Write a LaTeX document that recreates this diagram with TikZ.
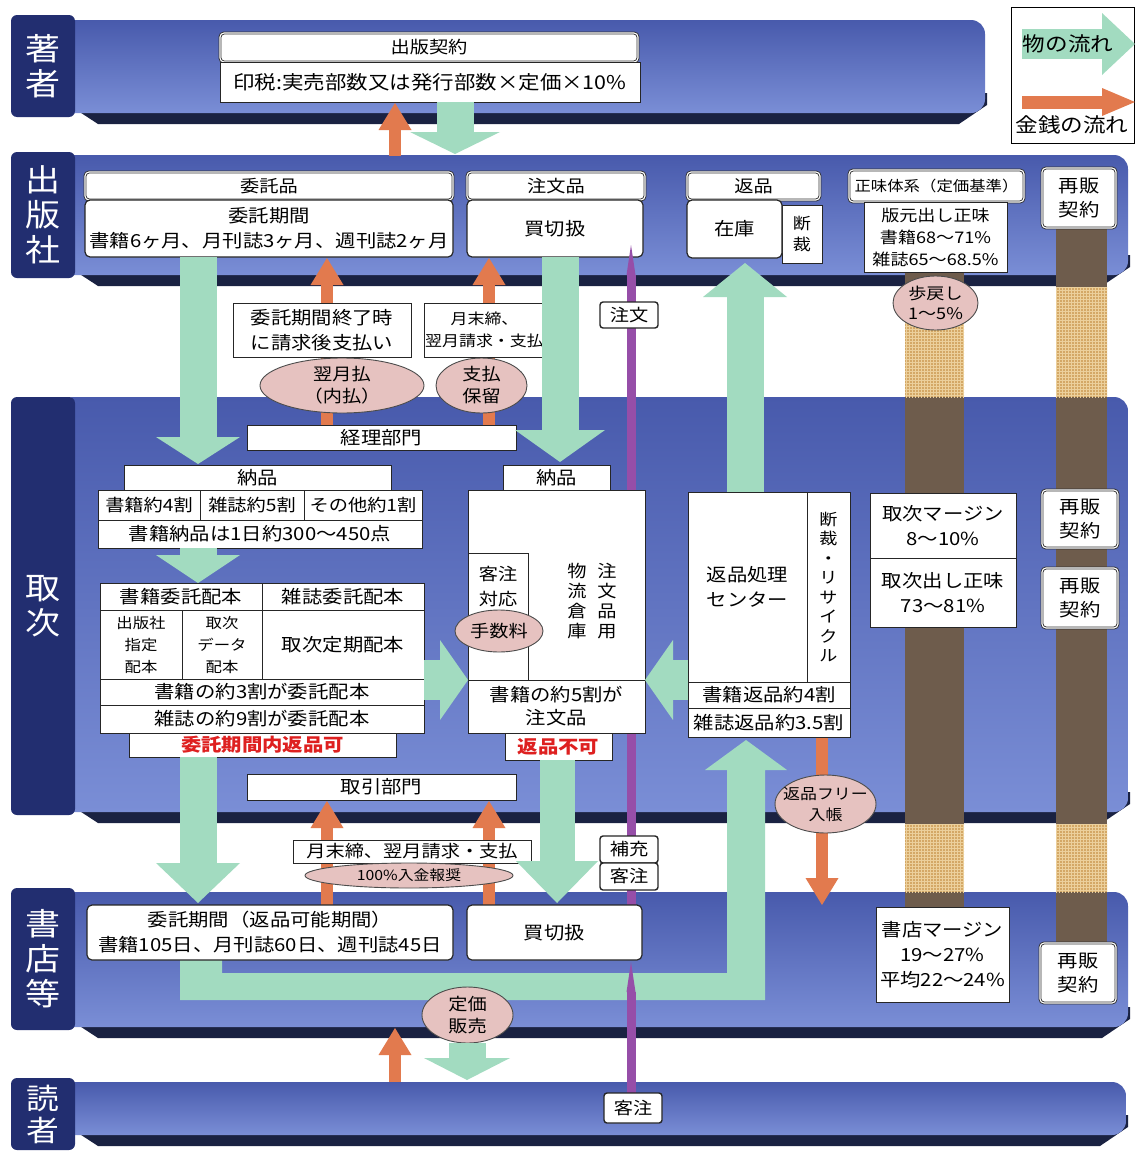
\documentclass[tikz,border=0pt]{standalone}
\usepackage{fontspec}
\setmainfont{Noto Sans CJK JP}[FakeStretch=1.13]
\usetikzlibrary{arrows.meta,patterns,shapes.geometric}
\definecolor{bandA}{RGB}{72,90,172}
\definecolor{bandB}{RGB}{122,142,214}
\definecolor{navy}{RGB}{34,46,112}
\definecolor{shad}{RGB}{26,34,66}
\definecolor{grn}{RGB}{162,219,192}
\definecolor{org}{RGB}{226,122,78}
\definecolor{pur}{RGB}{150,78,168}
\definecolor{pinkE}{RGB}{230,194,192}
\definecolor{tanC}{RGB}{212,168,102}
\definecolor{tanL}{RGB}{236,208,156}
\definecolor{brn}{RGB}{110,92,76}
\definecolor{redT}{RGB}{222,32,32}
\newcommand\fsz[2]{\fontsize{#1}{#2}\selectfont}
\newcommand\bx[7]{\node[#1,minimum width={(#5)-(#3)},minimum height={(#6)-(#4)}] (#2) at ({((#3)+(#5))/2},{((#4)+(#6))/2}) {#7};}
\newcommand\el[7]{\bx{ebox}{#1}{#2}{#3}{#4}{#5}{}\node[base,font=#6] at (#1) {#7};}
\newcommand\band[3]{%
 \fill[shad] (72,{#2-6}) -- (98,{#2+11}) -- ({#3-26},{#2+11}) -- ({#3+2},{#2-8}) -- ({#3+2},{#2-20}) -- (72,{#2-20}) -- cycle;
 \shade[top color=bandA,bottom color=bandB,rounded corners=14pt] (60,#1) rectangle (#3,#2);}
\begin{document}
\begin{tikzpicture}[x=1pt,y=-1pt,
 base/.style={inner sep=0pt,outer sep=0pt,align=center,text=black},
 wbox/.style={base,draw=black!85,fill=white,line width=0.8pt,font=\fsz{18}{25}},
 rbox/.style={wbox,rounded corners=5pt,line width=1.2pt},
 hbox/.style={base,draw=black!80,fill=white,double=white,double distance=1.1pt,line width=0.9pt,rounded corners=4pt,font=\fsz{17}{24}},
 ebox/.style={base,ellipse,draw=black!70,fill=pinkE,line width=0.9pt},
 lbl/.style={base,draw=black!85,fill=white,line width=1.4pt,rounded corners=3pt,font=\fsz{17}{22}},
 labbox/.style={base,fill=navy,rounded corners=6pt,text=white,font=\fsz{31}{35}},
 redt/.style={text=redT,font=\fsz{18}{24}\bfseries},
 garrow/.style={draw=grn,line width=#1},
 gtip/.style 2 args={-{Triangle[width=#1,length=#2,line width=0pt]}},
 oarrow/.style={draw=org,line width=12pt,-{Triangle[width=33pt,length=27pt,line width=0pt]}},
 parrow/.style={draw=pur,line width=9pt,-{Triangle[width=9pt,length=30pt,line width=0pt]}},
]
\useasboundingbox (0,0) rectangle (1135,1151);
\clip (0,0) rectangle (1135,1151);
\fill[white] (0,0) rectangle (1135,1151);

% bands
\band{20}{113}{985}
\band{155}{275}{1128}
\band{397}{812}{1128}
\band{892}{1027}{1128}
\band{1082}{1135}{1126}

% side labels
\bx{labbox}{lbA}{11}{15}{75}{117}{著\\者}
\bx{labbox}{lbB}{11}{152}{75}{278}{出\\版\\社}
\bx{labbox}{lbC}{11}{397}{75}{815}{取\\次}
\bx{labbox}{lbD}{11}{888}{75}{1030}{書\\店\\等}
\bx{labbox,font=\fsz{29}{32}}{lbE}{11}{1078}{75}{1150}{読\\者}

% brown columns
\fill[brn] (1056,228) rectangle (1107,943);
\fill[tanC] (1056,287) rectangle (1107,397);
\fill[tanC] (1056,824) rectangle (1107,892);
\fill[brn] (905,272) rectangle (964,907);
\fill[tanC] (905,287) rectangle (964,397);
\fill[tanC] (905,824) rectangle (964,892);
\fill[pattern=grid,pattern color=tanL] (1056,287) rectangle (1107,397);
\fill[pattern=grid,pattern color=tanL] (1056,824) rectangle (1107,892);
\fill[pattern=grid,pattern color=tanL] (905,287) rectangle (964,397);
\fill[pattern=grid,pattern color=tanL] (905,824) rectangle (964,892);

% green return path in bookstore row
\fill[grn] (180,957) -- (180,1000) -- (765,1000) -- (765,770) -- (787,770) -- (746,740) -- (705,770) -- (727,770) -- (727,973) -- (222,973) -- (222,957) -- cycle;

% purple (reader order)
\coordinate (p1s) at (631,1108); \coordinate (p1e) at (631,962);
\draw[parrow] (p1s) -- (p1e);

% orange arrows
\coordinate (o1s) at (395,156); \coordinate (o1e) at (395,103);
\coordinate (o2s) at (327,425); \coordinate (o2e) at (327,258);
\coordinate (o3s) at (489,425); \coordinate (o3e) at (489,258);
\coordinate (o4s) at (327,905); \coordinate (o4e) at (327,801);
\coordinate (o5s) at (489,905); \coordinate (o5e) at (489,801);
\coordinate (o6s) at (822,737); \coordinate (o6e) at (822,905);
\coordinate (o7s) at (395,1082); \coordinate (o7e) at (395,1028);
\draw[oarrow] (o1s) -- (o1e);
\draw[oarrow] (o2s) -- (o2e);
\draw[oarrow] (o3s) -- (o3e);
\draw[oarrow] (o4s) -- (o4e);
\draw[oarrow] (o5s) -- (o5e);
\draw[oarrow] (o6s) -- (o6e);
\draw[oarrow] (o7s) -- (o7e);

% author row
\bx{hbox}{keiyaku}{220}{33}{638}{62}{出版契約}
\bx{wbox,font=\fsz{19}{25}}{inzei}{220}{62}{640}{102}{印税:実売部数又は発行部数×定価×10\%}

% publisher row
\bx{hbox}{itakuH}{85}{172}{453}{200}{委託品}
\bx{rbox}{itakuB}{85}{200}{453}{257}{委託期間\\書籍6ヶ月、月刊誌3ヶ月、週刊誌2ヶ月}
\bx{hbox}{chuH}{467}{172}{645}{200}{注文品}
\bx{rbox}{kaiP}{467}{200}{643}{257}{買切扱}
\bx{hbox}{henH}{687}{172}{820}{200}{返品}
\bx{wbox,font=\fsz{16}{21}}{dansaiP}{782}{205}{822}{263}{断\\裁}
\bx{rbox}{zaiko}{687}{200}{782}{258}{在庫}
\bx{hbox,font=\fsz{14.5}{20}}{shomiH}{849}{170}{1024}{202}{正味体系（定価基準）}
\bx{wbox,font=\fsz{16}{22}}{shomiB}{864}{202}{1007}{272}{版元出し正味\\書籍68～71\%\\雑誌65～68.5\%}
\bx{hbox,font=\fsz{18}{24}}{saihanA}{1042}{168}{1116}{228}{再販\\契約}

% purple (order to publisher)
\coordinate (p2s) at (631,905); \coordinate (p2e) at (631,245);
\draw[parrow] (p2s) -- (p2e);

% between publisher and distributor
\bx{wbox}{kikanE}{233}{303}{411}{357}{委託期間終了時\\に請求後支払い}
\bx{wbox,font=\fsz{15}{22}}{getsuA}{424}{303}{545}{357}{月末締、\\翌月請求・支払}
\el{ellA}{260}{358}{424}{413}{\fsz{17}{22}}{翌月払\\（内払）}
\el{ellB}{436}{358}{527}{413}{\fsz{17}{22}}{支払\\保留}
\el{ellC}{893}{276}{978}{330}{\fsz{16}{20}}{歩戻し\\1～5\%}
\bx{lbl}{chumonL}{600}{302}{658}{328}{注文}

% distributor row
\bx{wbox}{keiri}{247}{425}{516}{450}{経理部門}
\bx{wbox}{nouA}{124}{465}{391}{490}{納品}
\bx{wbox,font=\fsz{17}{22}}{r1a}{98}{490}{200}{520}{書籍約4割}
\bx{wbox,font=\fsz{17}{22}}{r1b}{200}{490}{304}{520}{雑誌約5割}
\bx{wbox,font=\fsz{17}{22}}{r1c}{304}{490}{422}{520}{その他約1割}
\bx{wbox}{r2}{98}{520}{422}{548}{書籍納品は1日約300～450点}
\bx{wbox}{t1a}{100}{583}{262}{610}{書籍委託配本}
\bx{wbox}{t1b}{262}{583}{424}{610}{雑誌委託配本}
\bx{wbox,font=\fsz{14.5}{22}}{t2a}{100}{610}{182}{679}{出版社\\指定\\配本}
\bx{wbox,font=\fsz{14.5}{22}}{t2b}{182}{610}{262}{679}{取次\\データ\\配本}
\bx{wbox}{t2c}{262}{610}{424}{679}{取次定期配本}
\bx{wbox}{t3}{100}{679}{424}{705}{書籍の約3割が委託配本}
\bx{wbox}{t4}{100}{705}{424}{733}{雑誌の約9割が委託配本}
\bx{wbox,redt}{hkA}{129}{733}{396}{757}{委託期間内返品可}
\bx{wbox}{torihiki}{247}{774}{516}{800}{取引部門}

\bx{wbox}{nouB}{503}{465}{610}{490}{納品}
\bx{wbox}{chuR}{468}{490}{645}{733}{}
\bx{wbox}{kyakuB}{468}{553}{528}{680}{}
\node[base,font=\fsz{17}{25}] (kyakuT) at (498,587) {客注\\対応};
\node[base,font=\fsz{17}{20}] (vt1) at (607,601) {注\\文\\品\\用};
\node[base,font=\fsz{17}{20}] (vt2) at (577,601) {物\\流\\倉\\庫};
\bx{wbox,font=\fsz{18}{23}}{chuB}{468}{680}{645}{733}{書籍の約5割が\\注文品}
\el{tesu}{455}{610}{543}{652}{\fsz{17}{22}}{手数料}
\bx{wbox,redt}{hkB}{505}{733}{612}{760}{返品不可}

\bx{wbox}{henC}{688}{492}{807}{682}{返品処理\\センター}
\bx{wbox,font=\fsz{16}{19.5}}{dansaiT}{807}{492}{850}{682}{断\\裁\\・\\リ\\サ\\イ\\ク\\ル}
\bx{wbox}{hrA}{688}{682}{850}{708}{書籍返品約4割}
\bx{wbox}{hrB}{688}{708}{850}{737}{雑誌返品約3.5割}
\bx{wbox}{mgA}{870}{493}{1016}{558}{取次マージン\\8～10\%}
\bx{wbox}{mgB}{870}{558}{1016}{627}{取次出し正味\\73～81\%}
\bx{hbox,font=\fsz{18}{24}}{saihanB}{1042}{490}{1118}{548}{再販\\契約}
\bx{hbox,font=\fsz{18}{24}}{saihanC}{1042}{568}{1118}{628}{再販\\契約}
\el{ellD}{775}{775}{876}{833}{\fsz{15}{21}}{返品フリー\\入帳}

% between distributor and bookstore
\bx{wbox,font=\fsz{17}{22}}{getsuB}{293}{840}{531}{863}{月末締、翌月請求・支払}
\el{ellE}{305}{863}{513}{888}{\fsz{14}{18}}{100\%入金報奨}
\bx{lbl}{hojuu}{600}{836}{658}{863}{補充}
\bx{lbl}{kyakuA}{600}{863}{658}{890}{客注}

% bookstore row
\bx{rbox}{itakuS}{87}{905}{453}{960}{委託期間（返品可能期間）\\書籍105日、月刊誌60日、週刊誌45日}
\bx{rbox}{kaiS}{467}{905}{642}{960}{買切扱}
\bx{wbox}{mgC}{876}{907}{1009}{1002}{書店マージン\\19～27\%\\平均22～24\%}
\bx{hbox,font=\fsz{18}{24}}{saihanD}{1040}{943}{1116}{1003}{再販\\契約}
\el{ellF}{422}{987}{513}{1043}{\fsz{17}{22}}{定価\\販売}

% reader row
\bx{lbl}{kyakuR}{604}{1093}{662}{1123}{客注}

% green arrows
\coordinate (g1s) at (455,102); \coordinate (g1e) at (455,154);
\coordinate (g2s) at (198,257); \coordinate (g2e) at (198,464);
\coordinate (g3s) at (198,548); \coordinate (g3e) at (198,583);
\coordinate (g4s) at (198,757); \coordinate (g4e) at (198,903);
\coordinate (g5s) at (560,257); \coordinate (g5e) at (560,462);
\coordinate (g6s) at (557,760); \coordinate (g6e) at (557,903);
\coordinate (g7s) at (745,492); \coordinate (g7e) at (745,263);
\coordinate (g9s) at (467,1043); \coordinate (g9e) at (467,1080);
\coordinate (g10s) at (424,680); \coordinate (g10e) at (468,680);
\coordinate (g11s) at (688,680); \coordinate (g11e) at (645,680);
\draw[garrow=37pt,gtip={90pt}{22pt}] (g1s) -- (g1e);
\draw[garrow=37pt,gtip={84pt}{27pt}] (g2s) -- (g2e);
\draw[garrow=37pt,gtip={84pt}{28pt}] (g3s) -- (g3e);
\draw[garrow=37pt,gtip={84pt}{40pt}] (g4s) -- (g4e);
\draw[garrow=37pt,gtip={90pt}{32pt}] (g5s) -- (g5e);
\draw[garrow=35pt,gtip={82pt}{42pt}] (g6s) -- (g6e);
\draw[garrow=37pt,gtip={84pt}{34pt}] (g7s) -- (g7e);
\draw[garrow=37pt,gtip={86pt}{22pt}] (g9s) -- (g9e);
\draw[garrow=40pt,gtip={80pt}{28pt}] (g10s) -- (g10e);
\draw[garrow=40pt,gtip={80pt}{28pt}] (g11s) -- (g11e);

% legend
\bx{base,draw=black,fill=white,line width=1pt}{legend}{1011}{7}{1134}{143}{}
\coordinate (lg1s) at (1022,44); \coordinate (lg1e) at (1135,44);
\draw[garrow=30pt,gtip={62pt}{33pt}] (lg1s) -- (lg1e);
\coordinate (lg2s) at (1022,102); \coordinate (lg2e) at (1135,102);
\draw[draw=org,line width=13pt,-{Triangle[width=28pt,length=33pt,line width=0pt]}] (lg2s) -- (lg2e);
\node[base,font=\fsz{20}{24}] (lgt1) at (1068,44) {物の流れ};
\node[base,font=\fsz{20}{24}] (lgt2) at (1072,125) {金銭の流れ};
\end{tikzpicture}
\end{document}
